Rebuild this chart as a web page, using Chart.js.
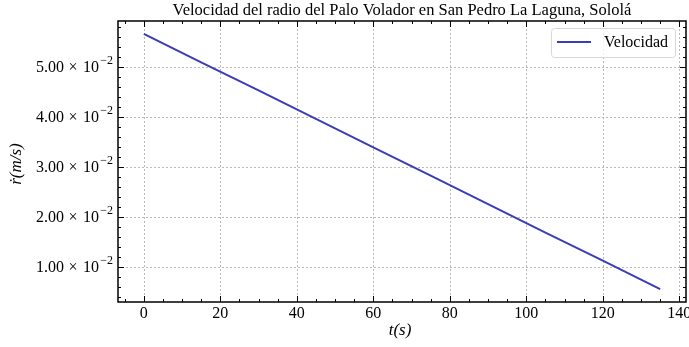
<!DOCTYPE html>
<html>
<head>
<meta charset="utf-8">
<script src="https://cdn.jsdelivr.net/npm/chart.js@4.4.0/dist/chart.umd.min.js"></script>
<style>
  body { margin: 0; background: #fff; }
</style>
</head>
<body>
<canvas id="myChart" width="689" height="347"></canvas>
<script>
// datos
let tiempo = [0, 15, 30, 45, 60, 75, 90, 105, 120, 135];
let velocidad = [0.0566, 0.0509, 0.0453, 0.0396, 0.0339, 0.0283, 0.0226, 0.0169, 0.0113, 0.0056];

// ticks
let xTicks = [0, 20, 40, 60, 80, 100, 120, 140];
let xTickLabels = ["0", "20", "40", "60", "80", "100", "120", "140"];
let yTicks = [0.01, 0.02, 0.03, 0.04, 0.05];
let yTickLabels = ["1.00", "2.00", "3.00", "4.00", "5.00"];
let yExponente = "\u22122";

let titulo = "Velocidad del radio del Palo Volador en San Pedro La Laguna, Sololá";
let nombreSerie = "Velocidad";

let colorLinea = "rgb(60, 60, 182)";
let fuente = "'Liberation Serif', 'DejaVu Serif', serif";

let puntos = tiempo.map((t, i) => ({ x: t, y: velocidad[i] }));

// ejes estilo "science": ticks hacia adentro en los 4 lados
const ejes = {
  id: "ejes",
  beforeDatasetsDraw(chart) {
    const ctx = chart.ctx;
    const a = chart.chartArea;
    const sx = chart.scales.x;
    const sy = chart.scales.y;
    ctx.save();
    ctx.strokeStyle = "#a8a8a8";
    ctx.lineWidth = 0.8;
    ctx.setLineDash([2, 2]);
    xTicks.forEach((v) => {
      let x = Math.round(sx.getPixelForValue(v)) + 0.5;
      ctx.beginPath();
      ctx.moveTo(x, a.top);
      ctx.lineTo(x, a.bottom);
      ctx.stroke();
    });
    yTicks.forEach((v) => {
      let y = Math.round(sy.getPixelForValue(v)) + 0.5;
      ctx.beginPath();
      ctx.moveTo(a.left, y);
      ctx.lineTo(a.right, y);
      ctx.stroke();
    });
    ctx.restore();
  },
  afterDatasetsDraw(chart) {
    const ctx = chart.ctx;
    const a = chart.chartArea;
    const sx = chart.scales.x;
    const sy = chart.scales.y;
    ctx.save();
    ctx.strokeStyle = "#000";
    ctx.lineWidth = 1;

    // ticks menores y mayores
    function tickX(v, len) {
      let x = Math.round(sx.getPixelForValue(v)) + 0.5;
      ctx.beginPath();
      ctx.moveTo(x, a.bottom);
      ctx.lineTo(x, a.bottom - len);
      ctx.moveTo(x, a.top);
      ctx.lineTo(x, a.top + len);
      ctx.stroke();
    }
    function tickY(v, len) {
      let y = Math.round(sy.getPixelForValue(v)) + 0.5;
      ctx.beginPath();
      ctx.moveTo(a.left, y);
      ctx.lineTo(a.left + len, y);
      ctx.moveTo(a.right, y);
      ctx.lineTo(a.right - len, y);
      ctx.stroke();
    }
    for (let i = -1; i <= 28; i++) tickX(i * 5, 3);
    xTicks.forEach((v) => tickX(v, 6));
    for (let i = 2; i <= 29; i++) tickY(i * 0.002, 3);
    yTicks.forEach((v) => tickY(v, 6));

    // marco
    ctx.lineWidth = 1.5;
    ctx.strokeRect(a.left, a.top, a.right - a.left, a.bottom - a.top);

    // etiquetas eje x
    ctx.fillStyle = "#000";
    ctx.font = "16px " + fuente;
    ctx.textAlign = "center";
    ctx.textBaseline = "middle";
    xTicks.forEach((v, i) => {
      ctx.fillText(xTickLabels[i], sx.getPixelForValue(v), a.bottom + 12);
    });

    // etiquetas eje y: mantisa x 10^-2
    yTicks.forEach((v, i) => {
      let y = sy.getPixelForValue(v);
      let r = a.left - 5;
      ctx.textAlign = "right";
      ctx.font = "12px " + fuente;
      ctx.fillText(yExponente, r, y - 6);
      ctx.font = "16px " + fuente;
      ctx.fillText("10", r - 14, y + 1);
      ctx.textAlign = "center";
      ctx.fillText("\u00d7", r - 40, y + 1);
      ctx.textAlign = "right";
      ctx.fillText(yTickLabels[i], r - 49, y + 1);
    });

    // titulo
    ctx.font = "16.5px " + fuente;
    ctx.textAlign = "center";
    ctx.fillText(titulo, (a.left + a.right) / 2, 11);

    // nombres de ejes
    ctx.font = "italic 17px " + fuente;
    ctx.fillText("t(s)", 400, 331);
    ctx.save();
    ctx.translate(17, 164);
    ctx.rotate(-Math.PI / 2);
    ctx.fillText("\u1e59(m/s)", 0, 0);
    ctx.restore();

    // leyenda
    ctx.lineWidth = 1;
    ctx.strokeStyle = "#d8d8d8";
    ctx.fillStyle = "rgba(255,255,255,0.8)";
    ctx.beginPath();
    ctx.roundRect(551.5, 28.5, 124, 29, 3);
    ctx.fill();
    ctx.stroke();
    ctx.strokeStyle = colorLinea;
    ctx.lineWidth = 2;
    ctx.beginPath();
    ctx.moveTo(557, 42);
    ctx.lineTo(591, 42);
    ctx.stroke();
    ctx.fillStyle = "#000";
    ctx.font = "16px " + fuente;
    ctx.textAlign = "left";
    ctx.fillText(nombreSerie, 604, 43);
    ctx.restore();
  },
};

let config = {
  type: "scatter",
  data: {
    datasets: [
      {
        label: nombreSerie,
        data: puntos,
        showLine: true,
        borderColor: colorLinea,
        borderWidth: 2,
        pointRadius: 0,
        fill: false,
      },
    ],
  },
  options: {
    responsive: false,
    animation: false,
    devicePixelRatio: 1,
    layout: { padding: { left: 118, right: 3, top: 21, bottom: 45 } },
    scales: {
      x: { type: "linear", min: -6.75, max: 141.75, display: false },
      y: { type: "linear", min: 0.00305, max: 0.05915, display: false },
    },
    plugins: {
      legend: { display: false },
      tooltip: { enabled: false },
      title: { display: false },
    },
  },
  plugins: [ejes],
};

var myChart = new Chart(document.getElementById("myChart"), config);
</script>
</body>
</html>
